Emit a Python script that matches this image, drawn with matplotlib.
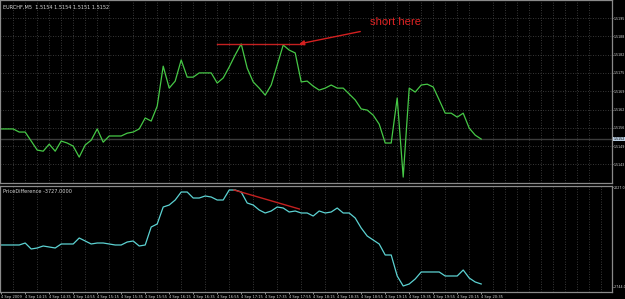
# EURCHF M5 chart with PriceDifference indicator (MT4 look)

import matplotlib
matplotlib.use("Agg")
import numpy as np
from matplotlib import pyplot as plt

# close prices, one per M5 bar
price = [1.51556, 1.51556, 1.51556, 1.51545, 1.51545, 1.51513, 1.51481, 1.51477,
         1.51502, 1.51477, 1.51513, 1.51506, 1.51495, 1.51456, 1.51499, 1.51516,
         1.51556, 1.51509, 1.51531, 1.51531, 1.51531, 1.51541, 1.51545, 1.51556,
         1.51595, 1.51584, 1.51637, 1.51779, 1.51701, 1.51726, 1.51801, 1.51740,
         1.51740, 1.51755, 1.51755, 1.51755, 1.51719, 1.51737, 1.51776, 1.51819,
         1.51858, 1.51772, 1.51723, 1.51701, 1.51676, 1.51712, 1.51783, 1.51854,
         1.51836, 1.51826, 1.51723, 1.51726, 1.51708, 1.51694, 1.51701, 1.51712,
         1.51701, 1.51701, 1.51680, 1.51659, 1.51627, 1.51623, 1.51605, 1.51573,
         1.51506, 1.51506, 1.51666, 1.51385, 1.51701, 1.51687, 1.51712, 1.51715,
         1.51705, 1.51659, 1.51612, 1.51612, 1.51598, 1.51612, 1.51559, 1.51534,
         1.51520]

# PriceDifference indicator values
diff = [-740, -740, -740, -740, -645, -931, -883, -788, -836, -883, -692, -692,
        -692, -406, -549, -692, -645, -645, -692, -740, -740, -597, -549, -788,
        -740, 119, 262, 1073, 1168, 1407, 1788, 1788, 1502, 1502, 1598, 1550,
        1407, 1407, 1884, 1884, 1788, 1264, 1168, 930, 787, 882, 1073, 1025,
        834, 882, 787, 787, 643, 882, 787, 834, 1025, 787, 787, 548, 71, -311,
        -502, -692, -1217, -1217, -2219, -2696, -2601, -2362, -2028, -2028,
        -2028, -2028, -2219, -2219, -2219, -1933, -2315, -2505, -2601]

time_labels = ["4 Sep 2009", "4 Sep 14:15", "4 Sep 14:35", "4 Sep 14:55",
               "4 Sep 15:15", "4 Sep 15:35", "4 Sep 15:55", "4 Sep 16:15",
               "4 Sep 16:35", "4 Sep 16:55", "4 Sep 17:15", "4 Sep 17:35",
               "4 Sep 17:55", "4 Sep 18:15", "4 Sep 18:35", "4 Sep 18:55",
               "4 Sep 19:15", "4 Sep 19:35", "4 Sep 19:55", "4 Sep 20:15",
               "4 Sep 20:35"]

price_ticks = [1.5195, 1.51885, 1.5182, 1.51755, 1.5169, 1.51625, 1.5156, 1.51495, 1.5143]
price_tick_labels = ["1.5195", "1.5188", "1.5182", "1.5175", "1.5169",
                     "1.5162", "1.5156", "1.5149", "1.5143"]
diff_ticks = [2027.0, -2744.0]
bid = 1.5152

BG = "black"
GRID = "#4a4a4a"
SPINE = "#8a8a8a"
TXT = "#d8d8d8"
FS = 3.6
FS_AX = 2.3

x = np.arange(len(price))

fig = plt.figure(figsize=(6.25, 2.99), dpi=100, facecolor=BG)
ax1 = fig.add_axes([0.0, 1 - 183 / 299, 612 / 625, 183 / 299])
ax2 = fig.add_axes([0.0, 1 - 292 / 299, 612 / 625, 106 / 299])

for ax in (ax1, ax2):
    ax.set_facecolor(BG)
    for s in ax.spines.values():
        s.set_color(SPINE)
        s.set_linewidth(0.9)
    ax.set_xlim(-0.2, 101.8)
    ax.set_xticks(np.arange(0, 102, 2), minor=True)
    ax.grid(True, which="minor", axis="x", color=GRID, linestyle=(0, (1, 2)), linewidth=0.6)
    ax.yaxis.tick_right()
    ax.tick_params(axis="y", colors=TXT, labelsize=FS_AX, length=1, width=0.5, pad=0.2)
    ax.tick_params(axis="x", which="both", length=0)

# upper panel: price
ax1.set_ylim(1.51364, 1.52014)
ax1.set_yticks(price_ticks)
ax1.set_yticklabels(price_tick_labels)
ax1.grid(True, which="major", axis="y", color=GRID, linestyle=(0, (1, 2)), linewidth=0.6)
ax1.set_xticklabels([])
ax1.axhline(bid, color="#3c3c3c", linewidth=1.0)
ax1.plot(x, price, color="#46c846", linewidth=0.9)
ax1.text(1.002, bid, "1.5152", transform=ax1.get_yaxis_transform(), fontsize=FS_AX,
         color="black", va="center", ha="left",
         bbox=dict(boxstyle="square,pad=0.1", facecolor="#b8cce0", edgecolor="none"))
ax1.text(0.005, 0.975, "EURCHF,M5  1.5154 1.5154 1.5151 1.5152", transform=ax1.transAxes,
         fontsize=FS, color=TXT, va="top", ha="left")

# hand drawn notes
ax1.plot([36, 50.3], [1.51858, 1.51858], color="#c42020", linewidth=1.0)
ax1.annotate("", xy=(49.2, 1.51856), xytext=(60.3, 1.51904),
             arrowprops=dict(arrowstyle="-|>", color="#d42020", lw=1.0,
                             mutation_scale=7))
ax1.text(61.4, 1.51936, "short here", color="#e02424", fontsize=8.2,
         family="Liberation Sans", va="center", ha="left")

# lower panel: indicator
ax2.set_ylim(-2983, 2075)
ax2.set_yticks(diff_ticks)
ax2.set_yticklabels(["2027.0", "-2744.0"])
ax2.plot(x, diff, color="#5cd2d2", linewidth=0.9)
ax2.plot([38.8, 49.7], [1884, 977], color="#c42020", linewidth=1.0)
ax2.text(0.005, 0.97, "PriceDifference -3727.0000", transform=ax2.transAxes,
         fontsize=FS, color=TXT, va="top", ha="left")

label_pos = np.arange(0, 4 * len(time_labels), 4)
ax2.set_xticks(label_pos)
ax2.set_xticklabels(time_labels)
ax2.tick_params(axis="x", which="major", colors=TXT, labelsize=2.6, length=1.5,
                width=0.5, pad=0.6)
for t in ax2.get_xticklabels():
    t.set_horizontalalignment("left")

plt.savefig("out.png", dpi=100, facecolor=BG)
